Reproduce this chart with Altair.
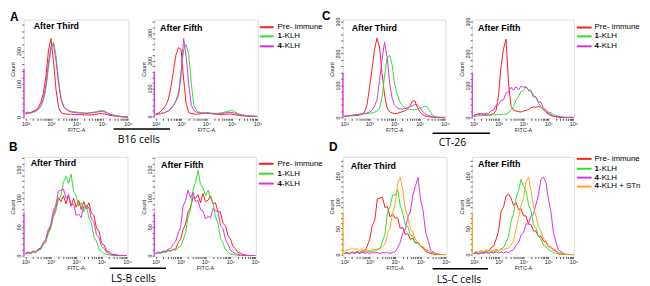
import math
import altair as alt
import pandas as pd

FONT = "Liberation Sans"
CAP_FONT = "Open Sans"

# log10(FITC-A) bin positions
LOG_FITC = [2.0, 2.1, 2.2, 2.3, 2.4, 2.5, 2.6, 2.7, 2.8, 2.9, 3.0, 3.1, 3.2, 3.3, 3.4, 3.5,
            3.6, 3.7, 3.8, 3.9, 4.0, 4.1, 4.2, 4.3, 4.4, 4.5, 4.6, 4.7, 4.8, 4.9, 5.0, 5.1,
            5.2, 5.3, 5.4, 5.5, 5.6, 5.7, 5.8, 5.9, 6.0]

SERIES = ["Pre- immune", "1-KLH", "4-KLH", "4-KLH + STn"]
COLORS = ["#ff1a1a", "#2ee02e", "#e22ee2", "#ffa31a"]

# ---- A: B16 cells ----
A1_PRE = [12, 15, 13, 18, 21, 29, 44, 72, 122, 200, 238, 165, 80, 28, 13, 10, 9, 8, 9, 7, 8, 7, 8, 6, 7, 6, 7, 8, 9, 11, 10, 9, 7, 5, 4, 3, 2, 1, 1, 0, 0]
A1_K1 = [9, 11, 13, 14, 17, 22, 31, 50, 84, 148, 205, 228, 182, 108, 56, 32, 24, 19, 17, 16, 15, 14, 13, 13, 12, 13, 14, 15, 17, 19, 20, 18, 13, 9, 7, 5, 3, 2, 1, 1, 0]
A1_K4 = [10, 12, 12, 16, 19, 25, 35, 56, 96, 162, 215, 222, 168, 98, 50, 30, 22, 18, 15, 14, 13, 12, 12, 11, 11, 12, 13, 14, 15, 17, 17, 15, 11, 8, 6, 4, 3, 2, 1, 0, 0]
A2_PRE = [8, 12, 18, 28, 40, 62, 105, 165, 222, 248, 240, 135, 45, 14, 10, 9, 8, 9, 10, 12, 14, 12, 10, 9, 8, 7, 6, 7, 8, 9, 8, 6, 5, 3, 2, 2, 1, 1, 0, 0, 0]
A2_K1 = [5, 8, 10, 12, 15, 20, 28, 40, 58, 88, 165, 240, 258, 222, 120, 40, 22, 16, 14, 13, 13, 12, 12, 11, 11, 12, 13, 15, 18, 20, 22, 17, 12, 8, 6, 4, 3, 2, 1, 1, 0]
A2_K4 = [6, 9, 11, 13, 16, 20, 27, 38, 55, 75, 150, 280, 215, 115, 40, 22, 16, 13, 12, 11, 11, 10, 10, 9, 9, 10, 11, 12, 14, 15, 14, 12, 9, 6, 4, 3, 2, 1, 1, 0, 0]

# ---- B: LS-B cells ----
B1_PRE = [3, 5, 3, 6, 5, 9, 11, 19, 24, 40, 50, 70, 82, 101, 94, 104, 90, 106, 86, 100, 84, 96, 80, 94, 82, 92, 74, 70, 48, 42, 22, 18, 8, 6, 2, 2, 1, 0, 0, 0, 0]
B1_K1 = [2, 5, 4, 6, 5, 9, 10, 18, 23, 38, 47, 67, 77, 99, 104, 128, 138, 126, 142, 112, 104, 86, 92, 76, 88, 66, 56, 32, 25, 10, 8, 3, 2, 1, 0, 0, 0, 0, 0, 0, 0]
B1_K4 = [4, 6, 5, 8, 7, 11, 13, 22, 28, 45, 53, 78, 88, 112, 114, 116, 100, 104, 88, 90, 70, 72, 66, 86, 82, 84, 64, 58, 36, 31, 16, 12, 5, 4, 2, 1, 0, 0, 0, 0, 0]
B2_PRE = [3, 5, 4, 7, 6, 9, 8, 11, 11, 22, 28, 45, 55, 76, 84, 102, 100, 106, 92, 108, 94, 96, 104, 90, 92, 76, 76, 56, 52, 35, 29, 16, 12, 5, 4, 2, 1, 0, 0, 0, 0]
B2_K1 = [3, 5, 4, 6, 5, 8, 7, 10, 9, 14, 16, 27, 40, 66, 80, 114, 128, 148, 124, 118, 104, 114, 100, 92, 67, 56, 30, 22, 10, 7, 2, 2, 1, 0, 0, 0, 0, 0, 0, 0, 0]
B2_K4 = [4, 6, 5, 8, 7, 11, 12, 20, 24, 39, 49, 86, 96, 114, 100, 110, 94, 96, 80, 78, 64, 68, 66, 82, 78, 76, 52, 47, 28, 20, 9, 6, 3, 2, 1, 0, 0, 0, 0, 0, 0]

# ---- C: CT-26 ----
C1_PRE = [3, 4, 5, 5, 6, 6, 7, 10, 16, 38, 92, 150, 212, 248, 220, 140, 70, 30, 18, 14, 12, 13, 15, 18, 20, 25, 35, 50, 52, 32, 18, 10, 5, 3, 2, 1, 0, 0, 0, 0, 0]
C1_K1 = [3, 4, 5, 6, 7, 8, 9, 10, 11, 12, 13, 14, 16, 20, 28, 65, 130, 185, 195, 165, 105, 72, 50, 38, 30, 27, 25, 24, 24, 26, 28, 32, 35, 33, 20, 7, 3, 1, 0, 0, 0]
C1_K4 = [4, 5, 6, 7, 8, 9, 10, 11, 12, 14, 17, 22, 35, 55, 115, 180, 235, 190, 110, 60, 38, 30, 27, 26, 28, 30, 33, 36, 40, 40, 32, 20, 12, 7, 4, 2, 1, 0, 0, 0, 0]
C2_PRE = [6, 9, 12, 11, 9, 8, 8, 9, 12, 22, 70, 160, 215, 245, 105, 35, 22, 20, 18, 17, 20, 22, 25, 30, 33, 32, 34, 32, 24, 16, 10, 6, 3, 2, 1, 0, 0, 0, 0, 0, 0]
C2_K1 = [3, 4, 5, 5, 6, 6, 7, 7, 8, 8, 9, 9, 10, 10, 14, 24, 34, 55, 65, 82, 83, 96, 87, 85, 69, 64, 45, 34, 24, 23, 16, 15, 9, 7, 3, 2, 1, 0, 0, 0, 0]
C2_K4 = [6, 9, 8, 11, 10, 13, 13, 20, 23, 38, 40, 53, 55, 76, 80, 94, 85, 96, 86, 98, 94, 96, 84, 82, 64, 63, 49, 47, 29, 24, 12, 10, 4, 3, 2, 1, 0, 0, 0, 0, 0]

# ---- D: LS-C cells ----
D1_PRE = [2, 4, 2, 5, 3, 6, 4, 7, 6, 16, 29, 56, 66, 106, 108, 110, 90, 92, 72, 78, 70, 70, 50, 52, 38, 40, 29, 31, 22, 24, 16, 13, 6, 4, 2, 1, 0, 0, 0, 0, 0]
D1_K1 = [2, 3, 2, 4, 3, 5, 4, 6, 4, 7, 5, 7, 6, 9, 11, 25, 39, 82, 92, 114, 114, 124, 94, 79, 58, 53, 37, 35, 22, 22, 15, 15, 9, 8, 4, 3, 1, 0, 0, 0, 0]
D1_K4 = [2, 3, 1, 4, 2, 4, 2, 4, 2, 4, 2, 4, 3, 4, 2, 4, 3, 4, 2, 4, 5, 13, 23, 41, 49, 72, 82, 114, 131, 148, 106, 84, 43, 27, 8, 5, 2, 1, 0, 0, 0]
D1_STN = [5, 9, 9, 13, 10, 11, 8, 11, 8, 9, 7, 10, 9, 11, 11, 15, 20, 38, 52, 79, 98, 136, 148, 124, 88, 72, 49, 43, 28, 24, 16, 15, 9, 8, 4, 3, 2, 1, 0, 0, 0]
D2_PRE = [2, 4, 2, 5, 4, 7, 7, 13, 16, 29, 45, 82, 91, 112, 116, 108, 94, 100, 86, 88, 74, 74, 58, 58, 45, 45, 34, 35, 26, 24, 15, 14, 9, 8, 3, 3, 1, 0, 0, 0, 0]
D2_K1 = [2, 3, 2, 4, 3, 5, 4, 6, 5, 8, 7, 11, 13, 24, 35, 64, 78, 108, 122, 144, 132, 122, 96, 84, 58, 51, 35, 30, 18, 15, 9, 7, 3, 3, 1, 0, 0, 0, 0, 0, 0]
D2_K4 = [2, 3, 1, 3, 2, 4, 2, 4, 3, 5, 3, 5, 3, 5, 4, 7, 9, 18, 22, 37, 42, 58, 59, 74, 77, 96, 114, 144, 148, 138, 106, 82, 42, 24, 9, 6, 2, 1, 0, 0, 0]
D2_STN = [3, 6, 5, 8, 6, 9, 7, 9, 7, 10, 8, 11, 9, 12, 12, 18, 26, 48, 69, 94, 108, 139, 148, 124, 91, 74, 52, 45, 30, 26, 16, 13, 7, 6, 2, 2, 1, 0, 0, 0, 0]

# pile-up of events at the lower bound of the axis
SPIKES = {"A1": 146, "A2": 161, "B1": 75, "B2": 75, "C1": 140, "C2": 140, "D1": 80, "D2": 80}

X_DOMAIN = [1.94, 6.02]
SPIKE_AT = 1.945
X_TICKS = [round(d + math.log10(k), 4) for d in range(2, 6) for k in range(1, 10)] + [6]
X_LABEL_EXPR = ("datum.value == 2 ? '10²' : datum.value == 3 ? '10³' : datum.value == 4 ? '10⁴' : "
                "datum.value == 5 ? '10⁵' : datum.value == 6 ? '10⁶' : ''")


def txt(s, x, y, size, weight="normal", align="left", baseline="alphabetic", font=FONT):
    return alt.Chart(pd.DataFrame({"t": [s]})).mark_text(
        align=align, baseline=baseline, font=font, fontSize=size, fontWeight=weight, color="black"
    ).encode(x=alt.value(x), y=alt.value(y), text="t:N")


def hrule(x1, x2, y, color, width):
    return alt.Chart(pd.DataFrame({"t": [0]})).mark_rule(color=color, strokeWidth=width).encode(
        x=alt.value(x1), x2=alt.value(x2), y=alt.value(y))


def panel(curves, spike, ydom, ystep, ymajor, w, h, title, tx, ty, extras):
    xax = alt.Axis(values=X_TICKS, labelExpr=X_LABEL_EXPR, tickSize=2, tickColor="#333", tickWidth=0.8,
                   labelFontSize=5.5, labelFont=FONT, labelColor="#222", labelPadding=1,
                   labelOverlap=False, labelFlush=False, title="FITC-A", titleFontSize=5.5,
                   titleFont=FONT, titleFontWeight="normal", titlePadding=1, titleColor="#222",
                   domain=False, grid=False)
    yax = alt.Axis(values=list(range(0, int(ydom[1]) + 1, ystep)),
                   labelExpr="datum.value % " + str(ymajor) + " == 0 ? datum.label : ''",
                   labelAngle=-90, labelAlign="center", labelBaseline="bottom",
                   tickSize=2, tickColor="#333", tickWidth=0.8, labelFontSize=5.5, labelFont=FONT,
                   labelColor="#222", labelPadding=0, labelOverlap=False, title="Count",
                   titleFontSize=5.5, titleFont=FONT, titleFontWeight="normal", titlePadding=1,
                   titleColor="#222", domain=False, grid=False)
    xs = alt.Scale(domain=X_DOMAIN, nice=False, zero=False)
    ys = alt.Scale(domain=ydom, nice=False, zero=False)
    layers = []
    for name, vals in curves:
        df = pd.DataFrame({"fitc": LOG_FITC, "count": vals})
        layers.append(alt.Chart(df).mark_line(color=COLORS[SERIES.index(name)], strokeWidth=1,
                                              clip=True).encode(
            x=alt.X("fitc:Q", scale=xs, axis=xax), y=alt.Y("count:Q", scale=ys, axis=yax)))
    top_color = COLORS[SERIES.index(curves[-1][0])]
    sdf = pd.DataFrame({"fitc": [SPIKE_AT], "count": [0], "hi": [spike]})
    layers.append(alt.Chart(sdf).mark_rule(color=top_color, strokeWidth=1.3).encode(
        x=alt.X("fitc:Q", scale=xs, axis=xax), y=alt.Y("count:Q", scale=ys, axis=yax), y2="hi:Q"))
    layers.append(txt(title, tx, ty, 9, weight="bold"))
    layers.extend(extras)
    return alt.layer(*layers).properties(width=w, height=h)


def legend(names, lx1, lx2, tx, rows):
    out = []
    for name, ry in zip(names, rows):
        out.append(hrule(lx1, lx2, ry, COLORS[SERIES.index(name)], 2))
        if name[0].isdigit():
            out.append(txt(name[0], tx, ry, 8, weight="bold", baseline="middle"))
            out.append(txt(name[1:], tx + 4.5, ry, 8, baseline="middle"))
        else:
            out.append(txt(name, tx, ry, 8, baseline="middle"))
    return out


def caption(label, h, x1, x2, dy_line, cx, dy_text):
    return [hrule(x1, x2, h + dy_line, "black", 1.5),
            txt(label, cx, h + dy_text, 10.5, align="center", font=CAP_FONT)]


def spacer(w, h):
    return alt.Chart(pd.DataFrame({"t": [0]})).mark_point(opacity=0).properties(
        width=w, height=h, view=alt.ViewBackground(stroke="transparent"))


S3 = SERIES[:3]

A1 = panel(list(zip(S3, [A1_PRE, A1_K1, A1_K4])), SPIKES["A1"], [-4, 295], 20, 100, 106, 100,
           "After Third", 10, 10,
           [txt("A", -14, 1.5, 12, weight="bold")] + caption("B16 cells", 100, 91, 148, 10.7, 116.5, 25))
A2 = panel(list(zip(S3, [A2_PRE, A2_K1, A2_K4])), SPIKES["A2"], [-7, 348], 20, 100, 105, 100,
           "After Fifth", 6, 12, legend(S3, 107, 121, 125, [7.7, 17, 27]))

B1 = panel(list(zip(S3, [B1_PRE, B1_K1, B1_K4])), SPIKES["B1"], [-2, 172], 10, 50, 105, 101,
           "After Third", 7, 9,
           [txt("B", -15, -5.5, 12, weight="bold")] + caption("LS-B cells", 101, 87, 144, 11.7, 111, 26))
B2 = panel(list(zip(S3, [B2_PRE, B2_K1, B2_K4])), SPIKES["B2"], [-2, 172], 10, 50, 103, 101,
           "After Fifth", 7, 11, legend(S3, 106, 121, 125, [7, 17, 27]))

C1 = panel(list(zip(S3, [C1_PRE, C1_K1, C1_K4])), SPIKES["C1"], [-3, 306], 20, 100, 104, 100,
           "After Third", 9, 11.5,
           [txt("C", -21, 0.5, 12, weight="bold")] + caption("CT-26", 100, 91, 149, 15, 111, 27.5))
C2 = panel(list(zip(S3, [C2_PRE, C2_K1, C2_K4])), SPIKES["C2"], [-3, 306], 20, 100, 103, 100,
           "After Fifth", 6, 12, legend(S3, 106, 121, 124, [8, 17, 27]))

D1 = panel(list(zip(SERIES, [D1_PRE, D1_K1, D1_K4, D1_STN])), SPIKES["D1"], [-4, 187], 10, 50, 105, 101,
           "After Third", 8, 12.5,
           [txt("D", -14, -6, 12, weight="bold")] + caption("LS-C cells", 101, 91, 147, 12.3, 117.7, 27))
D2 = panel(list(zip(SERIES, [D2_PRE, D2_K1, D2_K4, D2_STN])), SPIKES["D2"], [-4, 187], 10, 50, 103, 101,
           "After Fifth", 6, 10.5, legend(SERIES, 106, 121, 124, [2, 12, 21, 30]))

chart = alt.concat(
    A1, A2, spacer(34, 100), C1, C2,
    B1, B2, spacer(34, 101), D1, D2,
    columns=5, spacing={"row": 39, "column": 26}, bounds="flush",
).properties(padding=0).configure_view(stroke="#333", strokeWidth=0.9).configure(background="white")

chart.save("out.html", embed_options={"renderer": "svg", "actions": False})
